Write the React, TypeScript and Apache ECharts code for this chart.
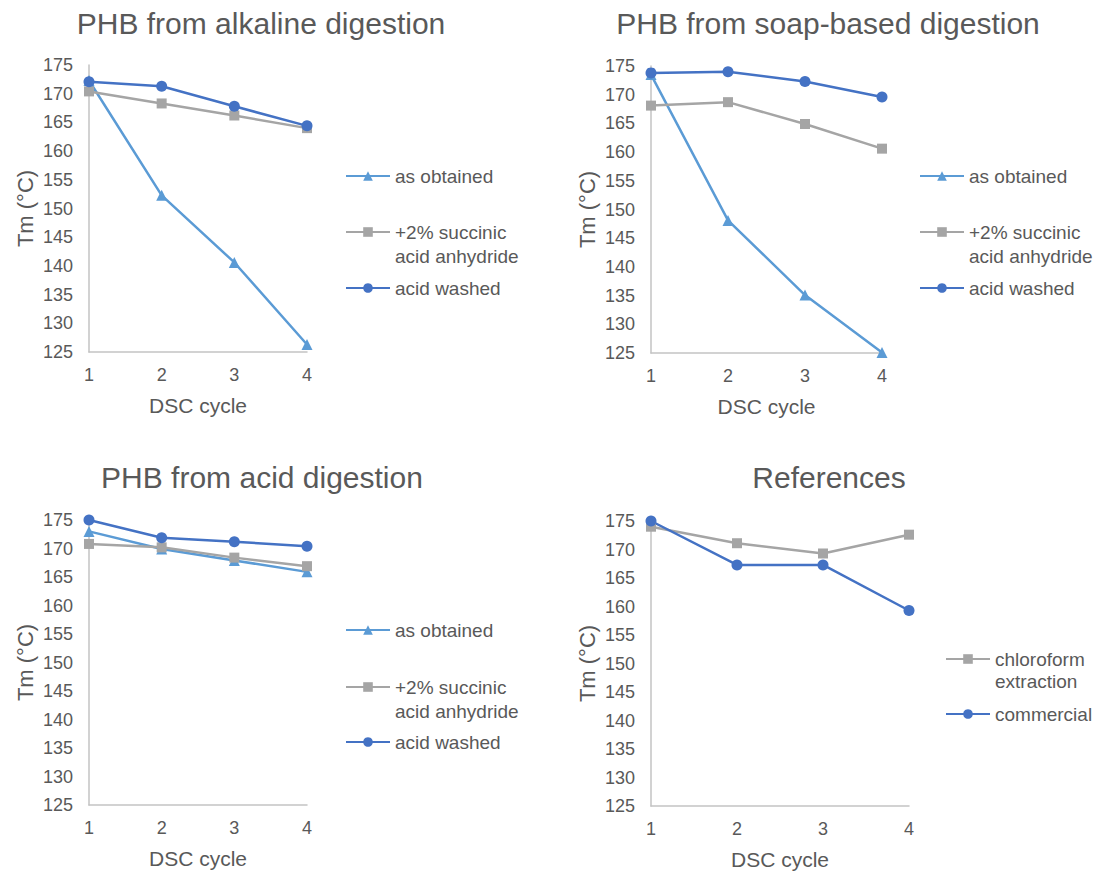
import React, { useEffect, useRef } from "react";
import * as echarts from "echarts";

const cycles = ["1", "2", "3", "4"];

// PHB from alkaline digestion
const alkAsObtained = [172.3, 152.3, 140.6, 126.3];
const alkSuccinic = [170.4, 168.3, 166.2, 164.0];
const alkAcidWashed = [172.1, 171.3, 167.8, 164.4];

// PHB from soap-based digestion
const soapAsObtained = [173.5, 148.1, 135.1, 125.1];
const soapSuccinic = [168.1, 168.7, 164.9, 160.6];
const soapAcidWashed = [173.8, 174.0, 172.3, 169.6];

// PHB from acid digestion
const acidAsObtained = [173.0, 169.9, 167.9, 165.9];
const acidSuccinic = [170.8, 170.2, 168.4, 166.9];
const acidAcidWashed = [175.0, 171.9, 171.2, 170.4];

// References
const refChloroform = [174.0, 171.1, 169.3, 172.6];
const refCommercial = [175.0, 167.3, 167.3, 159.3];

const titles = [
  "PHB from alkaline digestion",
  "PHB from soap-based digestion",
  "PHB from acid digestion",
  "References",
];

const FONT = "'Liberation Sans', Arial, sans-serif";
const TXT = "#595959";
const AXIS = "#c3c3c3";
const C_LIGHT = "#5b9bd5";
const C_GRAY = "#a5a5a5";
const C_BLUE = "#4472c4";

const NAME_AS = "as obtained";
const NAME_SUC = "+2% succinic acid anhydride";
const NAME_AW = "acid washed";
const NAME_CHL = "chloroform extraction";
const NAME_COM = "commercial";

// leading empty line keeps the icon level with the first text line
const legendLabel: Record<string, string> = {
  [NAME_SUC]: "\n+2% succinic\nacid anhydride",
  [NAME_CHL]: "\nchloroform\nextraction",
};

export default function App() {
  const ref = useRef<HTMLDivElement>(null);

  useEffect(() => {
    if (!ref.current) return;
    const chart = echarts.init(ref.current, undefined, { renderer: "svg" });

    const grids = [
      { left: 89, top: 65, width: 218, height: 287 },
      { left: 651, top: 66, width: 231, height: 287 },
      { left: 89, top: 520, width: 218, height: 285 },
      { left: 651, top: 521, width: 258, height: 285 },
    ];

    const xAxes = grids.map((_, i) => ({
      type: "category",
      gridIndex: i,
      data: cycles,
      boundaryGap: false,
      name: "DSC cycle",
      nameLocation: "middle",
      nameGap: 43,
      nameTextStyle: { fontSize: 21, color: TXT, fontFamily: FONT },
      axisLine: { show: true, lineStyle: { color: AXIS, width: 1.5 } },
      axisTick: { show: false },
      axisLabel: { margin: 14, fontSize: 18, color: TXT, fontFamily: FONT },
      splitLine: { show: false },
    }));

    const yAxes = grids.map((_, i) => ({
      type: "value",
      gridIndex: i,
      min: 125,
      max: 175,
      interval: 5,
      name: "Tm (°C)",
      nameLocation: "middle",
      nameGap: 53,
      nameTextStyle: { fontSize: 22, color: TXT, fontFamily: FONT },
      axisLine: { show: true, lineStyle: { color: AXIS, width: 1.5 } },
      axisTick: { show: false },
      axisLabel: { margin: 16, fontSize: 18, color: TXT, fontFamily: FONT },
      splitLine: { show: false },
    }));

    const mk = (name: string, data: number[], idx: number, color: string, symbol: string, size: number) => ({
      type: "line",
      name,
      xAxisIndex: idx,
      yAxisIndex: idx,
      data,
      symbol,
      symbolSize: size,
      showSymbol: true,
      lineStyle: { color, width: 2.5 },
      itemStyle: { color },
      emphasis: { disabled: true },
    });

    const series = [
      mk(NAME_AS, alkAsObtained, 0, C_LIGHT, "triangle", 11),
      mk(NAME_SUC, alkSuccinic, 0, C_GRAY, "rect", 10),
      mk(NAME_AW, alkAcidWashed, 0, C_BLUE, "circle", 11),
      mk(NAME_AS, soapAsObtained, 1, C_LIGHT, "triangle", 11),
      mk(NAME_SUC, soapSuccinic, 1, C_GRAY, "rect", 10),
      mk(NAME_AW, soapAcidWashed, 1, C_BLUE, "circle", 11),
      mk(NAME_AS, acidAsObtained, 2, C_LIGHT, "triangle", 11),
      mk(NAME_SUC, acidSuccinic, 2, C_GRAY, "rect", 10),
      mk(NAME_AW, acidAcidWashed, 2, C_BLUE, "circle", 11),
      mk(NAME_CHL, refChloroform, 3, C_GRAY, "rect", 10),
      mk(NAME_COM, refCommercial, 3, C_BLUE, "circle", 11),
    ];

    const mkLegend = (name: string, left: number, top: number, lh: number) => ({
      data: [name],
      left,
      top,
      orient: "vertical",
      padding: 0,
      itemWidth: 44,
      itemHeight: 12,
      itemGap: 0,
      selectedMode: false,
      formatter: (n: string) => legendLabel[n] || n,
      textStyle: {
        fontSize: 19,
        color: TXT,
        fontFamily: FONT,
        lineHeight: lh,
      },
    });

    const legend = [
      mkLegend(NAME_AS, 345, 164, 24),
      mkLegend(NAME_SUC, 345, 196, 24),
      mkLegend(NAME_AW, 345, 276, 24),
      mkLegend(NAME_AS, 919, 164, 24),
      mkLegend(NAME_SUC, 919, 196, 24),
      mkLegend(NAME_AW, 919, 276, 24),
      mkLegend(NAME_AS, 345, 618, 24),
      mkLegend(NAME_SUC, 345, 651, 24),
      mkLegend(NAME_AW, 345, 730, 24),
      mkLegend(NAME_CHL, 945, 626, 22),
      mkLegend(NAME_COM, 945, 703, 22),
    ];

    const titlePos = [
      [261, 23],
      [828, 23],
      [262, 477],
      [829, 477],
    ];

    const graphic = titles.map((t, i) => ({
      type: "text",
      x: titlePos[i][0],
      y: titlePos[i][1],
      style: {
        text: t,
        fontSize: 30,
        fill: TXT,
        fontFamily: FONT,
        align: "center",
        verticalAlign: "middle",
      },
    }));

    chart.setOption({
      animation: false,
      backgroundColor: "#ffffff",
      grid: grids,
      xAxis: xAxes,
      yAxis: yAxes,
      legend,
      series,
      graphic,
    });

    return () => chart.dispose();
  }, []);

  return (
    <div
      ref={ref}
      style={{ position: "absolute", left: 0, top: 0, width: 1097, height: 872 }}
    />
  );
}
